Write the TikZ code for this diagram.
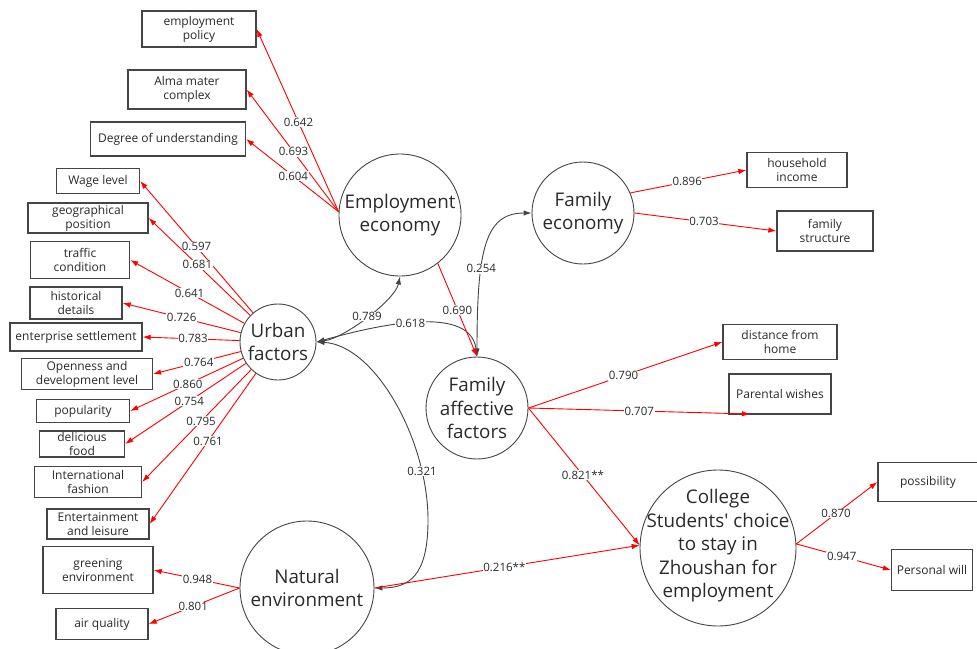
\documentclass[tikz,border=0pt]{standalone}
\usepackage{fontspec}
\setmainfont{Open Sans}[Ligatures=TeXOff]
\usetikzlibrary{arrows.meta}
\definecolor{txt}{HTML}{2A2A2A}
\definecolor{edge}{HTML}{454545}
\tikzset{
  ind/.style={draw=edge, line width=1.3pt, fill=white, align=center, inner sep=2pt,
    font=\fontsize{12}{14}\selectfont, text=txt},
  lat/.style={circle, draw=edge, line width=0.9pt, inner sep=0pt},
  lt/.style={align=center, font=\fontsize{18.8}{23.5}\selectfont, text=txt, inner sep=0pt},
  ld/.style={red, line width=0.9pt, -{Latex[length=8pt,width=5.5pt]}},
  cov/.style={edge, line width=0.9pt, {Latex[length=8pt,width=5.5pt]}-{Latex[length=8pt,width=5.5pt]}},
  lab/.style={fill=white, inner sep=0.6pt, font=\fontsize{11.5}{12}\selectfont, text=txt}
}
\begin{document}
\begin{tikzpicture}[x=1pt,y=-1pt]
\useasboundingbox[fill=white] (0,0) rectangle (977,648);

% latent variables
\node[lat, minimum size=122] (E) at (400,215) {};
\node[lt] (E-t) at (E) {Employment\\economy};
\node[lat, minimum size=102] (FE) at (583,213) {};
\node[lt] (FE-t) at (FE) {Family\\economy};
\node[lat, minimum size=76] (U) at (278,342) {};
\node[lt] (U-t) at (U) {Urban\\factors};
\node[lat, minimum size=102] (FA) at (477,408) {};
\node[lt] (FA-t) at (FA) {Family\\affective\\factors};
\node[lat, minimum size=134] (N) at (307,588) {};
\node[lt] (N-t) at (N) {Natural\\environment};
\node[lat, minimum size=156] (C) at (718,548) {};
\node[lt] (C-t) at (718,546) {College\\Students' choice\\to stay in\\Zhoushan for\\employment};

% indicators
\node[ind, minimum width=114, minimum height=36] (pol) at (199,29) {employment\\policy};
\node[ind, minimum width=118, minimum height=39] (alma) at (187,89.5) {Alma mater\\complex};
\node[ind, minimum width=155, minimum height=34] (deg) at (168,139) {Degree of understanding};
\node[ind, minimum width=83, minimum height=25] (wage) at (98,181) {Wage level};
\node[ind, minimum width=120, minimum height=30] (geo) at (88,218) {geographical\\position};
\node[ind, minimum width=99, minimum height=37] (traf) at (80,260) {traffic\\condition};
\node[ind, minimum width=92, minimum height=32] (hist) at (76,303) {historical\\details};
\node[ind, minimum width=132, minimum height=28] (ent) at (76,337) {enterprise settlement};
\node[ind, minimum width=131, minimum height=31] (open) at (87,374) {Openness and\\development level};
\node[ind, minimum width=93, minimum height=23] (pop) at (83,411) {popularity};
\node[ind, minimum width=85, minimum height=26, inner ysep=0pt] (food) at (82,444) {delicious\\food};
\node[ind, minimum width=107, minimum height=31] (fash) at (88,482) {International\\fashion};
\node[ind, minimum width=102, minimum height=30] (leis) at (98,524) {Entertainment\\and leisure};
\node[ind, minimum width=110, minimum height=47] (green) at (98,570) {greening\\environment};
\node[ind, minimum width=92, minimum height=31] (air) at (102,624) {air quality};
\node[ind, minimum width=100, minimum height=35] (inc) at (797,170) {household\\income};
\node[ind, minimum width=96, minimum height=40] (str) at (825,231) {family\\structure};
\node[ind, minimum width=114, minimum height=35] (dist) at (780,342) {distance from\\home};
\node[ind, minimum width=102, minimum height=40] (par) at (780,394) {Parental wishes};
\node[ind, minimum width=100, minimum height=39] (poss) at (928,482) {possibility};
\node[ind, minimum width=81, minimum height=41] (will) at (932,570) {Personal will};
\coordinate (partip) at (750,414);

% covariance curves
\draw[cov] (U.east) .. controls (345,338) and (395,300) .. (E.south) node[lab,pos=.5] (l789) {0.789};
\draw[cov] (U.east) .. controls (360,330) and (470,300) .. (FA.north) node[lab,pos=.5] (l618) {0.618};
\draw[cov] (FA.north) .. controls (477,250) and (485,213) .. (FE.west) node[lab,pos=.35] (l254) {0.254};
\draw[cov] (U.east) .. controls (375,345) and (428,440) .. (428,520) node[lab,pos=.8] (l321) {0.321}
  .. controls (428,575) and (410,588) .. (N.east);

% employment economy loadings
\draw[ld] (E.177) -- (pol.east) node[lab,pos=.49] (l642) {0.642};
\draw[ld] (E.177) -- (alma.east) node[lab,pos=.49] (l693) {0.693};
\draw[ld] (E.177) -- (deg.east) node[lab,pos=.49] (l604) {0.604};

% urban loadings
\draw[ld] (U) -- (wage.east) node[lab,pos=.5] (l597) {0.597};
\draw[ld] (U) -- (geo.east) node[lab,pos=.52] (l681) {0.681};
\draw[ld] (U) -- (traf.east) node[lab,pos=.48] (l641) {0.641};
\draw[ld] (U) -- (hist.east) node[lab,pos=.5] (l726) {0.726};
\draw[ld] (U) -- (ent.east) node[lab,pos=.48] (l783) {0.783};
\draw[ld] (U) -- (open.east) node[lab,pos=.48] (l764) {0.764};
\draw[ld] (U) -- (pop.east) node[lab,pos=.49] (l860) {0.860};
\draw[ld] (U) -- (food.east) node[lab,pos=.47] (l754) {0.754};
\draw[ld] (U) -- (fash.east) node[lab,pos=.46] (l795) {0.795};
\draw[ld] (U) -- (leis.east) node[lab,pos=.45] (l761) {0.761};

% natural environment
\draw[ld] (N.west) -- (green.east) node[lab,pos=.49] (l948) {0.948};
\draw[ld] (N.west) -- (air.east) node[lab,pos=.51] (l801) {0.801};

% structural paths
\draw[ld] (E.-52) -- (FA.north) node[lab,pos=.5] (l690) {0.690};
\draw[ld] (FA.east) -- (C.178) node[lab,pos=.49] (l821) {0.821**};
\draw[ld] (N.east) -- (C.178) node[lab,pos=.49] (l216) {0.216**};

% family economy
\draw[ld] (FE.23) -- (inc.west) node[lab,pos=.49] (l896) {0.896};
\draw[ld] (FE.0) -- (str.west) node[lab,pos=.49] (l703) {0.703};

% family affective
\draw[ld] (FA.east) -- (dist.west) node[lab,pos=.49] (l790) {0.790};
\draw[ld] (FA.east) -- (partip) node[lab,pos=.5] (l707) {0.707};

% outcome
\draw[ld] (C.3) -- (poss.west) node[lab,pos=.49] (l870) {0.870};
\draw[ld] (C.3) -- (will.west) node[lab,pos=.48] (l947) {0.947};
\end{tikzpicture}
\end{document}
